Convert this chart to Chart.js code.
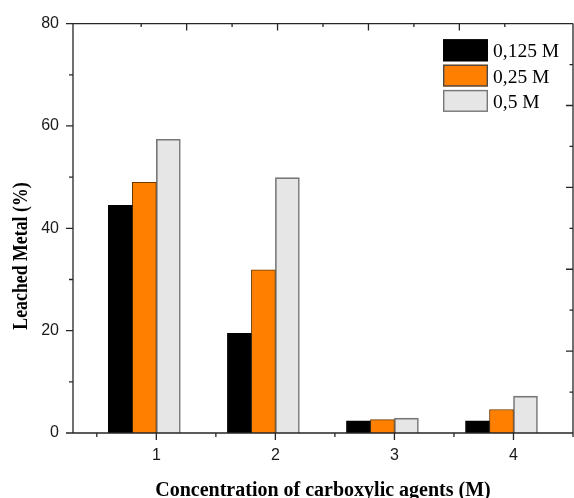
<!DOCTYPE html>
<html>
<head>
<meta charset="utf-8">
<script src="https://cdn.jsdelivr.net/npm/chart.js@4.4.1/dist/chart.umd.min.js"></script>
<style>
  html, body { margin: 0; padding: 0; background: #ffffff; }
  #wrap { width: 574px; height: 498px; }
</style>
</head>
<body>
<div id="wrap"><canvas id="chart" width="574" height="498"></canvas></div>
<script>
// Concentration of carboxylic agent (x) and leached metal (%) per series
const categories = [1, 2, 3, 4];
const seriesNames = ['0,125 M', '0,25 M', '0,5 M'];
const leached0125 = [44.5, 19.5, 2.4, 2.4];
const leached025  = [49.0, 31.9, 2.6, 4.6];
const leached05   = [57.4, 49.9, 2.9, 7.2];
const yTickValues = [0, 20, 40, 60, 80];
const xTitle = 'Concentration of carboxylic agents (M)';
const yTitle = 'Leached Metal (%)';

const fills   = ['#000000', '#ff8000', '#e6e6e6'];
const borders = ['#000000', '#6b3a00', '#777777'];
const borderW = [1, 1, 1.6];

const toPoints = vals => categories.map((c, i) => ({ x: c, y: vals[i] }));
const seriesValues = [leached0125, leached025, leached05];

const datasets = seriesValues.map((vals, k) => ({
  label: seriesNames[k],
  data: toPoints(vals),
  backgroundColor: fills[k],
  borderColor: borders[k],
  borderWidth: borderW[k],
  borderSkipped: 'bottom',
  barThickness: 24
}));
// empty slot after the third bar of each group
datasets.push({
  label: '',
  data: categories.map(c => ({ x: c, y: null })),
  backgroundColor: 'rgba(0,0,0,0)',
  barThickness: 24
});

const AXIS = '#262626';

const framePlugin = {
  id: 'frame',
  afterDraw(chart) {
    const { ctx, chartArea: a, scales } = chart;
    const { x, y, x2, y2 } = scales;
    ctx.save();
    ctx.strokeStyle = AXIS;
    ctx.lineWidth = 1.3;
    ctx.lineCap = 'butt';
    // box
    ctx.beginPath();
    ctx.moveTo(a.left, a.top); ctx.lineTo(a.right, a.top);
    ctx.moveTo(a.right, a.top); ctx.lineTo(a.right, a.bottom);
    ctx.moveTo(a.left, a.bottom); ctx.lineTo(a.right, a.bottom);
    ctx.moveTo(a.left, a.top); ctx.lineTo(a.left, a.bottom);
    ctx.stroke();

    ctx.beginPath();
    // left ticks (outward): major every 20, minor every 10
    for (let v = 0; v <= 80; v += 10) {
      const py = y.getPixelForValue(v);
      const len = v % 20 === 0 ? 7 : 4;
      ctx.moveTo(a.left - len, py); ctx.lineTo(a.left, py);
    }
    // bottom ticks (outward): major at categories, minor halfway
    for (let v = 0.5; v <= 4.5; v += 0.5) {
      const px = x.getPixelForValue(v);
      const len = Number.isInteger(v) ? 7 : 4;
      ctx.moveTo(px, a.bottom); ctx.lineTo(px, a.bottom + len);
    }
    // top ticks (inward)
    for (let v = 0.5; v < 5; v += 0.5) {
      const px = x2.getPixelForValue(v);
      const len = Number.isInteger(v) ? 7 : 3.5;
      ctx.moveTo(px, a.top); ctx.lineTo(px, a.top + len);
    }
    // right ticks (inward)
    for (let v = 10; v < 100; v += 10) {
      const py = y2.getPixelForValue(v);
      const len = v % 20 === 0 ? 7 : 3.5;
      ctx.moveTo(a.right, py); ctx.lineTo(a.right - len, py);
    }
    ctx.stroke();

    // axis titles
    ctx.fillStyle = '#000';
    ctx.font = 'bold 20px "Liberation Serif", "Times New Roman", serif';
    ctx.textAlign = 'center';
    ctx.textBaseline = 'alphabetic';
    ctx.fillText(xTitle, (a.left + a.right) / 2, 495.5);

    ctx.save();
    ctx.translate(27, 256);
    ctx.rotate(-Math.PI / 2);
    ctx.scale(0.89, 1);
    ctx.fillText(yTitle, 0, 0);
    ctx.restore();

    // legend
    const bx = a.right - 130, by = a.top + 15.7, bw = 45, bh = 22, step = 25.3;
    ctx.font = '19.5px "Liberation Serif", "Times New Roman", serif';
    ctx.textAlign = 'left';
    seriesNames.forEach((name, k) => {
      const top = by + k * step;
      ctx.fillStyle = fills[k];
      ctx.fillRect(bx, top, bw, bh);
      ctx.strokeStyle = k === 0 ? '#000' : (k === 1 ? '#4a4a4a' : '#777');
      ctx.lineWidth = 1.4;
      ctx.strokeRect(bx + 0.7, top + 0.7, bw - 1.4, bh - 1.4);
      ctx.fillStyle = '#000';
      ctx.fillText(name, bx + bw + 5, top + bh - 4);
    });
    ctx.restore();
  }
};

new Chart(document.getElementById('chart'), {
  type: 'bar',
  data: { datasets },
  options: {
    responsive: false,
    devicePixelRatio: 1,
    animation: false,
    layout: { padding: { top: 22, right: 1, left: 0, bottom: 0 } },
    plugins: { legend: { display: false }, tooltip: { enabled: false } },
    scales: {
      x: {
        type: 'linear',
        position: 'bottom',
        min: 0.3,
        max: 4.5,
        offset: false,
        grid: { display: false, drawTicks: false },
        border: { display: false },
        afterFit: s => { s.height = 65; },
        afterBuildTicks: s => { s.ticks = categories.map(v => ({ value: v })); },
        ticks: {
          padding: 13,
          color: '#1a1a1a',
          font: { family: '"Liberation Sans", Arial, sans-serif', size: 16 },
          maxRotation: 0
        }
      },
      y: {
        type: 'linear',
        position: 'left',
        min: 0,
        max: 80,
        grid: { display: false, drawTicks: false },
        border: { display: false },
        afterFit: s => { s.width = 73; },
        afterBuildTicks: s => { s.ticks = yTickValues.map(v => ({ value: v })); },
        ticks: {
          padding: 14,
          color: '#1a1a1a',
          font: { family: '"Liberation Sans", Arial, sans-serif', size: 16 }
        }
      },
      x2: { type: 'linear', position: 'top', min: 0, max: 5, display: false },
      y2: { type: 'linear', position: 'right', min: 0, max: 100, display: false }
    }
  },
  plugins: [framePlugin]
});
</script>
</body>
</html>
